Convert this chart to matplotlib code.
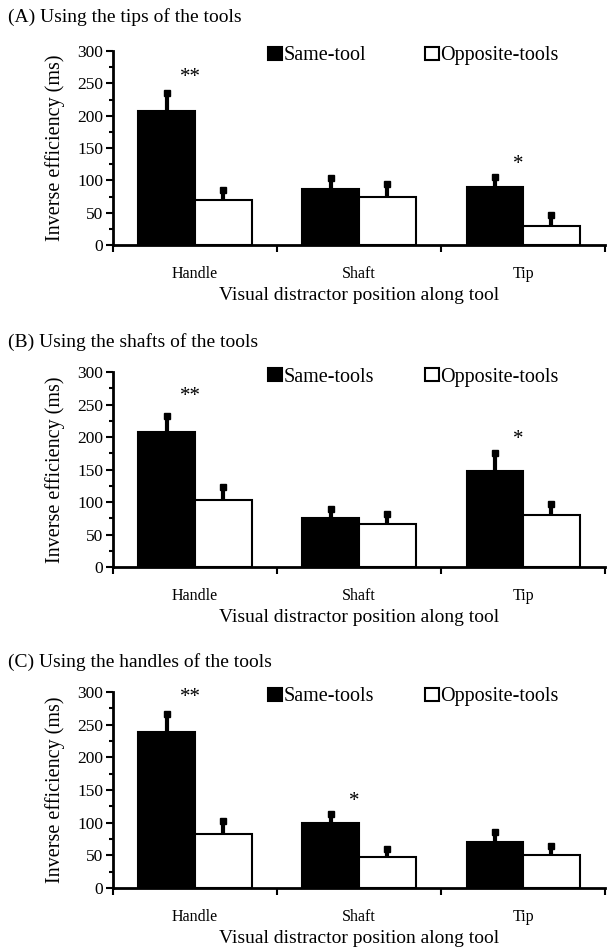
import matplotlib
matplotlib.use("Agg")
import matplotlib.pyplot as plt
from matplotlib.patches import Patch
from matplotlib.ticker import MultipleLocator, FixedLocator

plt.rcParams['font.family'] = ['Liberation Serif', 'DejaVu Serif']

positions = ["Handle", "Shaft", "Tip"]

# panel titles and legend names
titles = ["(A) Using the tips of the tools",
          "(B) Using the shafts of the tools",
          "(C) Using the handles of the tools"]
same_names = ["Same-tool", "Same-tools", "Same-tools"]

# means (ms)
same_vals = [[207, 86, 90], [208, 75, 148], [239, 99, 71]]
opp_vals = [[70, 75, 29], [103, 67, 80], [83, 48, 50]]
# upper error bars
same_err = [[28, 18, 15], [25, 14, 27], [28, 15, 15]]
opp_err = [[15, 20, 18], [21, 15, 17], [20, 12, 15]]

# significance stars: (category index, height, label)
stars = [[(0, 259, "**"), (2, 125, "*")],
         [(0, 262, "**"), (2, 196, "*")],
         [(0, 292, "**"), (1, 132, "*")]]

fig = plt.figure(figsize=(6.07, 9.47), dpi=100)

boxes = [(0.7413, 0.946), (0.401, 0.607), (0.0623, 0.2693)]
title_y = [17, 342, 662]

w = 0.345
for k in range(3):
    bot, top = boxes[k]
    ax = fig.add_axes([0.186, bot, 0.997 - 0.186, top - bot])
    centers = [i + 0.5 for i in range(3)]
    xs_same = [c - w / 2 for c in centers]
    xs_opp = [c + w / 2 for c in centers]
    ax.bar(xs_same, same_vals[k], width=w, color="black", edgecolor="black",
           linewidth=1.5, zorder=2)
    ax.bar(xs_opp, opp_vals[k], width=w, color="white", edgecolor="black",
           linewidth=1.5, zorder=2)
    # only the upper half of each error bar is drawn
    for xs, vals, errs in [(xs_same, same_vals[k], same_err[k]),
                           (xs_opp, opp_vals[k], opp_err[k])]:
        tops = [v + e for v, e in zip(vals, errs)]
        ax.vlines(xs, vals, tops, color="black", linewidth=3, zorder=3)
        ax.plot(xs, tops, linestyle="none", marker="s", markersize=5,
                color="black", zorder=3)
    for ci, h, lab in stars[k]:
        ax.text(ci + 0.47, h, lab, ha="center", va="center", fontsize=15)

    ax.set_xlim(0, 3)
    ax.set_ylim(0, 300)
    ax.yaxis.set_major_locator(MultipleLocator(50))
    ax.yaxis.set_minor_locator(MultipleLocator(25))
    ax.set_xticks(centers)
    ax.set_xticklabels(positions, fontsize=11.5)
    ax.xaxis.set_minor_locator(FixedLocator([0, 1, 2, 3]))
    ax.tick_params(axis="x", which="major", length=0, pad=15)
    ax.tick_params(axis="x", which="minor", length=5, width=1.5, direction="out")
    ax.tick_params(axis="y", which="major", length=5, width=1.5, labelsize=12.5, pad=2)
    ax.tick_params(axis="y", which="minor", length=3, width=1.5)
    for s in ["top", "right"]:
        ax.spines[s].set_visible(False)
    for s in ["left", "bottom"]:
        ax.spines[s].set_linewidth(2)
    ax.set_ylabel("Inverse efficiency (ms)", fontsize=14.5)
    ax.yaxis.set_label_coords(-0.098, 0.5)
    ax.set_xlabel("Visual distractor position along tool", fontsize=14)
    ax.xaxis.set_label_coords(0.5, -0.215)

    leg1 = ax.legend([Patch(facecolor="black", edgecolor="black", linewidth=1.5)],
                     [same_names[k]], frameon=False, loc="center left",
                     bbox_to_anchor=(0.316, 0.975), fontsize=14.5,
                     handlelength=0.65, handleheight=0.65, handletextpad=0.1,
                     borderpad=0, borderaxespad=0)
    ax.add_artist(leg1)
    ax.legend([Patch(facecolor="white", edgecolor="black", linewidth=1.5)],
              ["Opposite-tools"], frameon=False, loc="center left",
              bbox_to_anchor=(0.635, 0.975), fontsize=14.5,
              handlelength=0.65, handleheight=0.65, handletextpad=0.1,
              borderpad=0, borderaxespad=0)

    fig.text(8 / 607, 1 - title_y[k] / 947, titles[k], fontsize=14,
             ha="left", va="center")

fig.savefig("out.png", dpi=100)
